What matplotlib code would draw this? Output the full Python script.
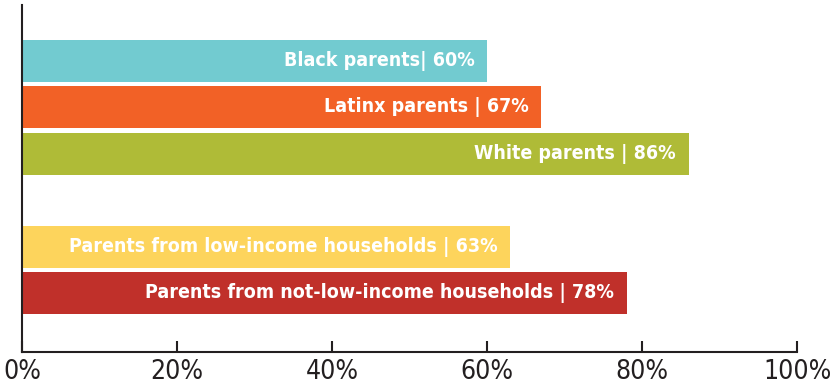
import matplotlib
matplotlib.use("Agg")
import matplotlib.pyplot as plt

# data
groups = ['Black parents', 'Latinx parents', 'White parents',
          'Parents from low-income households', 'Parents from not-low-income households']
labels = ['Black parents| 60%', 'Latinx parents | 67%', 'White parents | 86%',
          'Parents from low-income households | 63%', 'Parents from not-low-income households | 78%']
values = [60, 67, 86, 63, 78]
positions = [0, 1, 2, 4, 5]
colors = ['#72cbd0', '#f26126', '#afbb37', '#fdd45c', '#c0302a']

plt.rcParams['font.family'] = ['DejaVu Sans']

fig = plt.figure(figsize=(8.3, 3.88), dpi=100)
ax = fig.add_axes([22/830, 1-352/388, 775/830, 347/388])

ax.barh(positions, values, height=0.9, color=colors)

# labels inside the bars
for p, v, lab in zip(positions, values, labels):
    ax.annotate(lab, xy=(v, p), xytext=(-9, 0), textcoords='offset points',
                ha='right', va='center', color='white', fontsize=14, fontweight='bold',
                fontstretch='condensed')

ax.set_xlim(0, 100)
ax.set_ylim(6.26, -1.2)
ax.set_xticks([0, 20, 40, 60, 80, 100])
ax.set_xticklabels(['0%', '20%', '40%', '60%', '80%', '100%'], fontsize=19, color='#231f20',
                   fontstretch='condensed')
ax.set_yticks([])
for s in ['top', 'right']:
    ax.spines[s].set_visible(False)
for s in ['left', 'bottom']:
    ax.spines[s].set_color('#231f20')
    ax.spines[s].set_linewidth(1.5)
ax.tick_params(axis='x', direction='in', length=8, width=1.5, color='#231f20', pad=5)

fig.savefig('out.png', dpi=100)
